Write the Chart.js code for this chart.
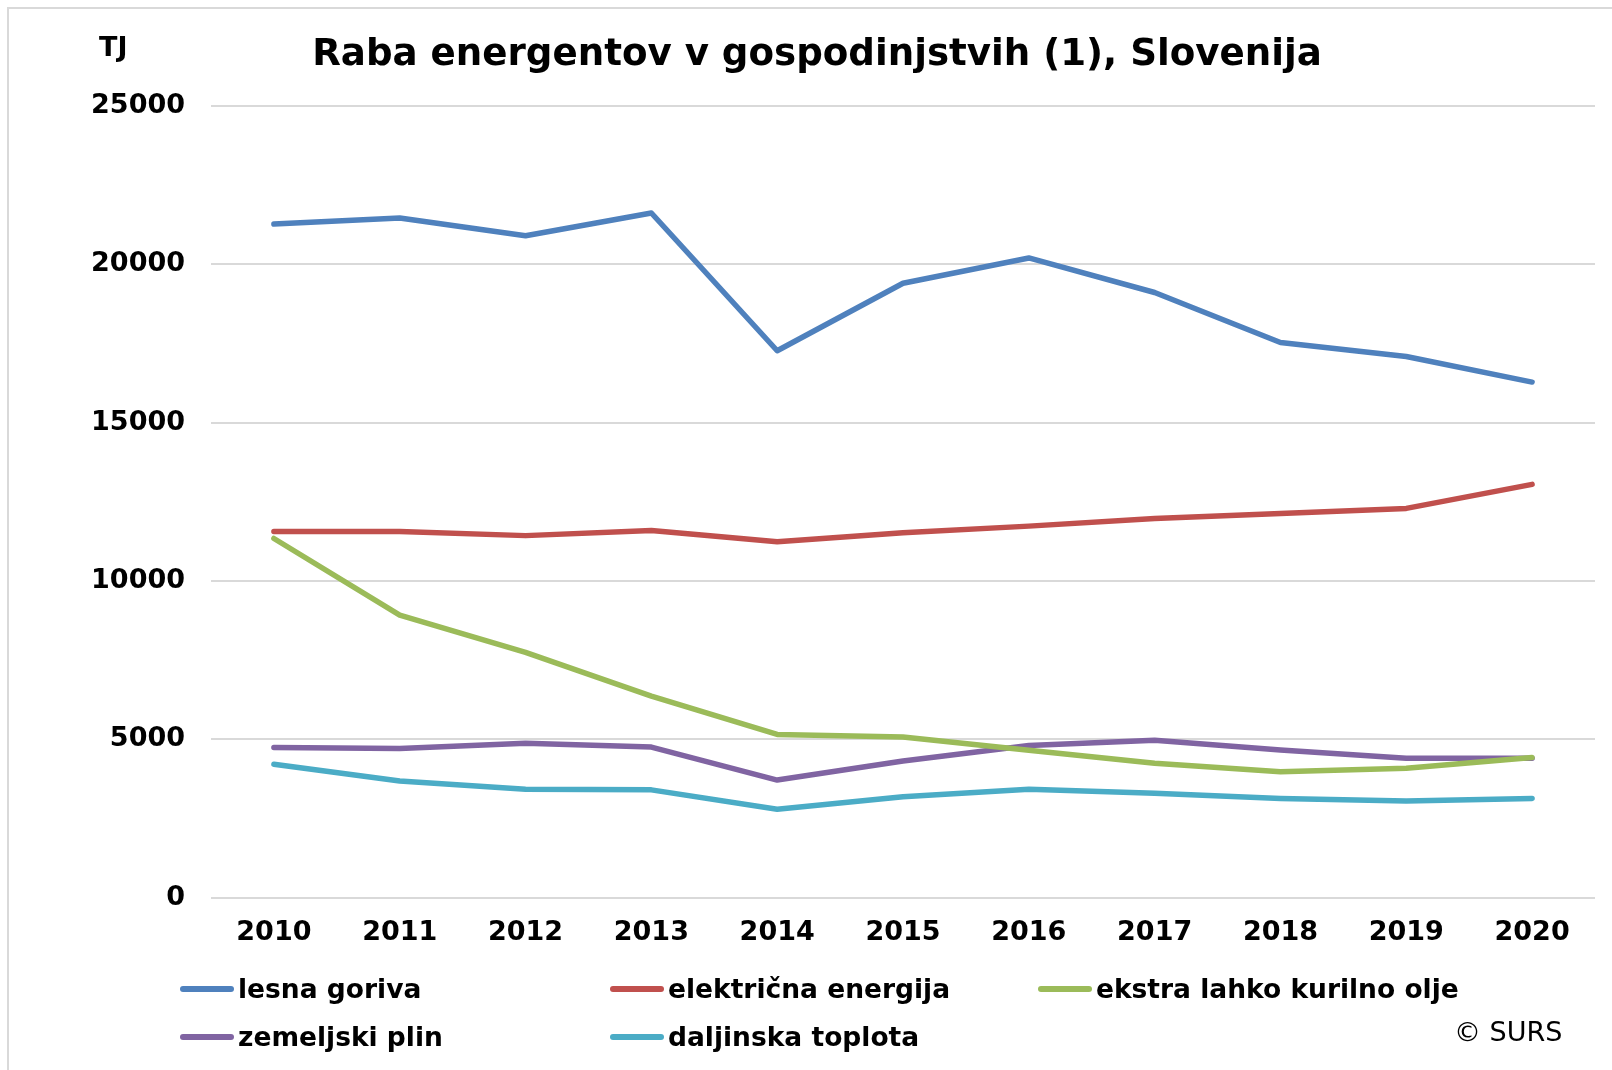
<!DOCTYPE html>
<html>
<head>
<meta charset="utf-8">
<script src="https://cdn.jsdelivr.net/npm/chart.js@4.4.1/dist/chart.umd.min.js"></script>
<style>
  html, body { margin:0; padding:0; background:#fff; }
  #wrap { position:relative; width:1612px; height:1070px; overflow:hidden; }
  #frame { position:absolute; left:7px; top:7px; width:1700px; height:1200px; border:2px solid #d9d9d9; box-sizing:border-box; }
  canvas { position:absolute; left:0; top:0; }
  .txt { position:absolute; font-family:"DejaVu Sans", Verdana, sans-serif; color:#000; white-space:nowrap; }
  #title { left:0; width:1634px; top:29px; text-align:center; font-size:37.2px; font-weight:bold; line-height:46px; }
  #unit { left:99px; top:31px; font-size:27px; font-weight:bold; line-height:32px; }
  #copy { left:1454px; top:1016px; font-size:27px; line-height:32px; }
  .leg { position:absolute; height:36px; font-family:"DejaVu Sans", Verdana, sans-serif; font-weight:bold; font-size:26.5px; line-height:36px; white-space:nowrap; }
  .leg i { position:absolute; left:0; top:15px; width:54px; height:6px; border-radius:3px; }
  .leg span { position:absolute; left:58px; top:0; }
</style>
</head>
<body>
<div id="wrap">
  <div id="frame"></div>
  <canvas id="c" width="1612" height="1070"></canvas>
  <div id="title" class="txt">Raba energentov v gospodinjstvih (1), Slovenija</div>
  <div id="unit" class="txt">TJ</div>
  <div id="copy" class="txt">© SURS</div>
  <div id="legend"></div>
</div>
<script>
const years = ['2010','2011','2012','2013','2014','2015','2016','2017','2018','2019','2020'];
const seriesNames = ['lesna goriva','električna energija','ekstra lahko kurilno olje','zemeljski plin','daljinska toplota'];
const lesnaGoriva = [21270, 21460, 20900, 21620, 17270, 19400, 20200, 19110, 17530, 17090, 16280];
const elektricnaEnergija = [11560, 11560, 11430, 11590, 11240, 11520, 11730, 11970, 12130, 12290, 13050];
const ekstraLahkoKurilnoOlje = [11340, 8920, 7740, 6360, 5150, 5070, 4650, 4240, 3970, 4080, 4420];
const zemeljskiPlin = [4740, 4710, 4870, 4750, 3710, 4310, 4800, 4970, 4660, 4400, 4400];
const daljinskaToplota = [4210, 3680, 3420, 3400, 2790, 3180, 3420, 3290, 3130, 3050, 3130];
const yTicks = [0, 5000, 10000, 15000, 20000, 25000];
const colors = ['#4F81BD','#C0504D','#9BBB59','#8064A2','#4BACC6'];
const values = [lesnaGoriva, elektricnaEnergija, ekstraLahkoKurilnoOlje, zemeljskiPlin, daljinskaToplota];

const datasets = seriesNames.map((n,i)=>({
  label:n, data:values[i], borderColor:colors[i], backgroundColor:colors[i],
  borderWidth:5.5, pointRadius:0, tension:0, fill:false, borderCapStyle:'round', borderJoinStyle:'round'
}));

const font = {family:'"DejaVu Sans", Verdana, sans-serif', size:27, weight:'bold'};

new Chart(document.getElementById('c'), {
  type:'line',
  data:{labels:years, datasets:datasets},
  options:{
    responsive:false, animation:false,
    layout:{padding:{top:106, left:0, right:17, bottom:0}},
    plugins:{legend:{display:false}, title:{display:false}, tooltip:{enabled:false}},
    scales:{
      x:{
        offset:true,
        grid:{display:false, drawTicks:false},
        border:{display:false},
        ticks:{font:font, color:'#000', padding:19, maxRotation:0, autoSkip:false},
        afterFit:(s)=>{ s.height = 172.5; }
      },
      y:{
        min:0, max:25000,
        afterBuildTicks:(s)=>{ s.ticks = yTicks.map(v=>({value:v})); },
        grid:{color:'#d9d9d9', lineWidth:2, drawTicks:false},
        border:{display:false},
        ticks:{font:font, color:'#000', padding:26, callback:(v)=>String(v)},
        afterFit:(s)=>{ s.width = 211; }
      }
    }
  }
});

const cols = [180, 610, 1038];
const rows = [971, 1019];
const legend = document.getElementById('legend');
seriesNames.forEach((n,i)=>{
  const d = document.createElement('div');
  d.className='leg';
  d.style.left = cols[i%3]+'px';
  d.style.top = rows[Math.floor(i/3)]+'px';
  d.innerHTML = '<i style="background:'+colors[i]+'"></i><span></span>';
  d.querySelector('span').textContent = n;
  legend.appendChild(d);
});
</script>
</body>
</html>
